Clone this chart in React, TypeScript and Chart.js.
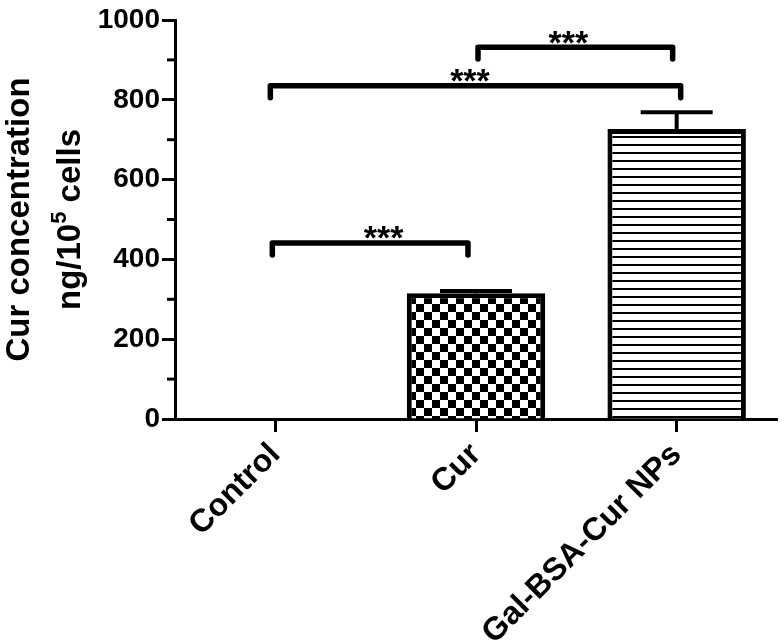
import React, { useEffect, useRef } from "react";
import { Chart, registerables } from "chart.js";

Chart.register(...registerables);

const categories = ["Control", "Cur", "Gal-BSA-Cur NPs"];
const means = [0, 315, 727];
const errors = [0, 6, 42];
const yTicksMajor = [0, 200, 400, 600, 800, 1000];
const yTicksMinor = [100, 300, 500, 700, 900];
// brackets: [from category pos, to category pos, y value, star x position]
const bracketFrom = [-0.015, -0.025, 1.01];
const bracketTo = [0.96, 2.02, 1.98];
const bracketY = [441, 835, 932];
const bracketStarX = [0.54, 0.97, 1.46];
const bracketLabel = ["***", "***", "***"];

const FONT = "'Liberation Sans', Arial, Helvetica, sans-serif";

function makeChecker(): CanvasPattern | string {
  const c = document.createElement("canvas");
  c.width = 16;
  c.height = 16;
  const g = c.getContext("2d")!;
  g.fillStyle = "#ffffff";
  g.fillRect(0, 0, 16, 16);
  g.fillStyle = "#000000";
  g.fillRect(0, 0, 8, 8);
  g.fillRect(8, 8, 8, 8);
  return g.createPattern(c, "repeat") || "#888";
}

function makeLines(): CanvasPattern | string {
  const c = document.createElement("canvas");
  c.width = 8;
  c.height = 8;
  const g = c.getContext("2d")!;
  g.fillStyle = "#ffffff";
  g.fillRect(0, 0, 8, 8);
  g.fillStyle = "#000000";
  g.fillRect(0, 0, 8, 2);
  return g.createPattern(c, "repeat") || "#ccc";
}

const overlayPlugin = {
  id: "overlay",
  afterDatasetsDraw(chart: any) {
    const ctx = chart.ctx as CanvasRenderingContext2D;
    const x = chart.scales.x;
    const y = chart.scales.y;
    const meta = chart.getDatasetMeta(0);
    ctx.save();
    ctx.strokeStyle = "#000";
    ctx.lineCap = "butt";
    // error bars (mean + SD)
    meta.data.forEach((bar: any, i: number) => {
      if (!errors[i]) return;
      const cx = bar.x;
      const top = y.getPixelForValue(means[i]);
      const end = y.getPixelForValue(means[i] + errors[i]);
      const half = bar.width * 0.26;
      ctx.lineWidth = 4;
      ctx.beginPath();
      ctx.moveTo(cx, top);
      ctx.lineTo(cx, end);
      ctx.stroke();
      ctx.beginPath();
      ctx.moveTo(cx - half, end);
      ctx.lineTo(cx + half, end);
      ctx.stroke();
    });
    // minor y ticks
    ctx.lineWidth = 3;
    yTicksMinor.forEach((v) => {
      const py = y.getPixelForValue(v);
      ctx.beginPath();
      ctx.moveTo(chart.chartArea.left - 8, py);
      ctx.lineTo(chart.chartArea.left, py);
      ctx.stroke();
    });
    // significance brackets
    const pxCat = (p: number) => {
      const p0 = x.getPixelForValue(0);
      const p1 = x.getPixelForValue(1);
      return p0 + (p1 - p0) * p;
    };
    bracketY.forEach((v, i) => {
      const x1 = pxCat(bracketFrom[i]);
      const x2 = pxCat(bracketTo[i]);
      const py = y.getPixelForValue(v);
      const drop = y.getPixelForValue(v - 30);
      ctx.lineWidth = 5.5;
      ctx.lineJoin = "round";
      ctx.lineCap = "round";
      ctx.beginPath();
      ctx.moveTo(x1, drop);
      ctx.lineTo(x1, py);
      ctx.lineTo(x2, py);
      ctx.lineTo(x2, drop);
      ctx.stroke();
      ctx.fillStyle = "#000";
      ctx.font = `bold 34px ${FONT}`;
      ctx.textAlign = "center";
      ctx.textBaseline = "alphabetic";
      ctx.fillText(bracketLabel[i], pxCat(bracketStarX[i]), py - 14 + 0.6 * 34);
    });
    ctx.restore();
  },
  afterDraw(chart: any) {
    const ctx = chart.ctx as CanvasRenderingContext2D;
    const y = chart.scales.y;
    const cy = (y.getPixelForValue(0) + y.getPixelForValue(1000)) / 2;
    ctx.save();
    ctx.fillStyle = "#000";
    ctx.textBaseline = "alphabetic";
    // line 1
    ctx.save();
    ctx.translate(29, cy);
    ctx.rotate(-Math.PI / 2);
    ctx.font = `bold 33px ${FONT}`;
    ctx.textAlign = "center";
    ctx.fillText("Cur concentration", 0, 0);
    ctx.restore();
    // line 2 with superscript
    ctx.save();
    ctx.translate(80, cy);
    ctx.rotate(-Math.PI / 2);
    const big = `bold 33px ${FONT}`;
    const small = `bold 22px ${FONT}`;
    ctx.font = big;
    const w1 = ctx.measureText("ng/10").width;
    const w3 = ctx.measureText(" cells").width;
    ctx.font = small;
    const w2 = ctx.measureText("5").width;
    const total = w1 + w2 + w3;
    let sx = -total / 2;
    ctx.textAlign = "left";
    ctx.font = big;
    ctx.fillText("ng/10", sx, 0);
    sx += w1;
    ctx.font = small;
    ctx.fillText("5", sx, -14);
    sx += w2;
    ctx.font = big;
    ctx.fillText(" cells", sx, 0);
    ctx.restore();
    ctx.restore();
  },
};

export default function App() {
  const ref = useRef<HTMLCanvasElement | null>(null);
  useEffect(() => {
    document.body.style.margin = "0";
    const canvas = ref.current!;
    const chart = new Chart(canvas, {
      type: "bar",
      data: {
        labels: categories,
        datasets: [
          {
            data: means,
            backgroundColor: ["#ffffff", makeChecker(), makeLines()] as any,
            borderColor: "#000",
            borderWidth: 5,
            borderSkipped: "bottom",
            categoryPercentage: 1,
            barPercentage: 0.69,
          },
        ],
      },
      options: {
        animation: false,
        responsive: false,
        maintainAspectRatio: false,
        events: [],
        layout: { padding: { top: 20, right: 7, left: 0, bottom: 0 } },
        plugins: {
          legend: { display: false },
          tooltip: { enabled: false },
          title: { display: false },
        },
        scales: {
          x: {
            offset: true,
            border: { display: true, color: "#000", width: 3 },
            grid: {
              display: true,
              drawOnChartArea: false,
              drawTicks: true,
              tickLength: 13,
              tickWidth: 3,
              tickColor: "#000",
              offset: false,
            },
            ticks: {
              color: "#000",
              font: { family: FONT, size: 32, weight: "bold" },
              minRotation: 45,
              maxRotation: 45,
              autoSkip: false,
              padding: 4,
            },
            afterFit(scale: any) {
              scale.height = 225;
            },
          },
          y: {
            min: 0,
            max: 1000,
            border: { display: true, color: "#000", width: 3 },
            grid: {
              display: true,
              drawOnChartArea: false,
              drawTicks: true,
              tickLength: 13,
              tickWidth: 3,
              tickColor: "#000",
            },
            afterBuildTicks(scale: any) {
              scale.ticks = yTicksMajor.map((v) => ({ value: v }));
            },
            ticks: {
              color: "#000",
              font: { family: FONT, size: 28, weight: "bold" },
              padding: 2,
              callback: (v: any) => String(v),
            },
            afterFit(scale: any) {
              scale.width = 175;
            },
          },
        },
      } as any,
      plugins: [overlayPlugin],
    });
    return () => chart.destroy();
  }, []);
  return (
    <div style={{ width: 784, height: 644, background: "#fff" }}>
      <canvas ref={ref} width={784} height={644} style={{ display: "block" }} />
    </div>
  );
}
